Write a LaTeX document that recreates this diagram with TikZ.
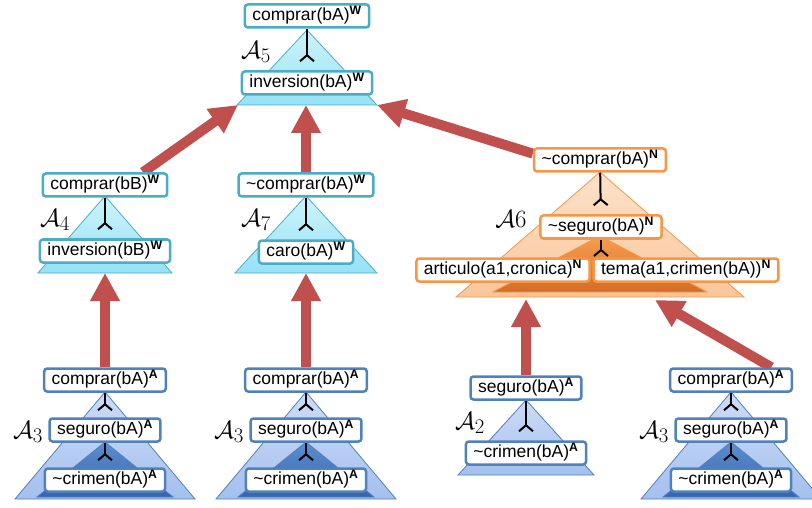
\documentclass[tikz,border=0pt]{standalone}
\usepackage{fontspec}
\setmainfont{Liberation Sans}
\usetikzlibrary{
  arrows.meta,
  calc,
}
\pgfdeclarelayer{triangles}
\pgfdeclarelayer{supports}
\pgfsetlayers{triangles,supports,main}
\definecolor{wline}{RGB}{75,172,198}
\definecolor{wtop}{RGB}{205,243,252}
\definecolor{wbot}{RGB}{150,226,246}
\definecolor{nline}{RGB}{247,150,70}
\definecolor{ntop}{RGB}{253,226,202}
\definecolor{nbot}{RGB}{250,198,156}
\definecolor{ndarktop}{RGB}{248,158,80}
\definecolor{ndarkbot}{RGB}{212,108,38}
\definecolor{aline}{RGB}{79,129,189}
\definecolor{atop}{RGB}{205,220,247}
\definecolor{abot}{RGB}{165,192,238}
\definecolor{adarktop}{RGB}{92,142,206}
\definecolor{adarkbot}{RGB}{55,100,176}
\definecolor{support}{RGB}{192,80,77}
\newcommand{\lit}[2]{%
  #1\textsuperscript{\textbf{#2}}%
}
\newcommand{\neglit}[2]{%
  \textasciitilde\lit{#1}{#2}%
}
\newcommand{\argname}[1]{%
  $\mathcal{A}#1$%
}

\begin{document}
\begin{tikzpicture}[
  x=1pt,
  y=-1pt,
  box/.style n args={1}{
    draw=#1,
    rounded corners=3pt,
    line width=2.5pt,
    fill=white,
    inner xsep=7.5pt,
    inner ysep=3pt,
    text height=13pt,
    text depth=4pt,
    font={\fontsize{17.5}{20}\selectfont},
  },
  wbox/.style={box={wline}},
  nbox/.style={box={nline}},
  abox/.style={box={aline}},
  tri/.style n args={3}{
    draw=#1,
    line width=0.8pt,
    top color=#2,
    bottom color=#3,
  },
  wtri/.style={tri={wline}{wtop}{wbot}},
  ntri/.style={tri={nline}{ntop}{nbot}},
  ndark/.style={tri={nline}{ndarktop}{ndarkbot}},
  atri/.style={tri={aline}{atop}{abot}},
  adark/.style={tri={aline}{adarktop}{adarkbot}},
  fork/.style={
    draw=black,
    line width=2pt,
    -{Straight Barb[reversed,length=6pt,width=14pt]},
    shorten >=8pt,
  },
  arrow/.style={
    draw=support,
    line width=10pt,
    -{Triangle[length=28pt,width=28pt]},
  },
  argname/.style={
    inner sep=0pt,
    font={\fontsize{24.88}{28}\selectfont},
  },
]
  \useasboundingbox (0,0) rectangle (812,508);

  %%%%%%%%%%%%%%%%%%%% TRIANGLES %%%%%%%%%%%%%%%%%%%%

  \begin{pgfonlayer}{triangles}
    % apex x / apex y / base y / half width
    \foreach \x/\ya/\yb/\w in {307/30/105/70,105/196/273/67,306/196/273/71} {
      \draw[wtri] (\x,\ya) -- ({\x-\w},\yb) -- ({\x+\w},\yb) -- cycle;
    }

    \draw[ntri] (600,172) -- (456,297) -- (744,297) -- cycle;
    \draw[ndark] (600,236) -- (493,292) -- (707,292) -- cycle;

    \draw[atri] (526,400) -- (458,475) -- (594,475) -- cycle;

    \foreach \x in {105,306,731} {
      \draw[atri] (\x,392) -- ({\x-90},499) -- ({\x+90},499) -- cycle;
      \draw[adark] (\x,442) -- ({\x-68},497) -- ({\x+68},497) -- cycle;
    }
  \end{pgfonlayer}

  \coordinate (t5-l) at (238,105);
  \coordinate (t5-m) at (306,105);
  \coordinate (t5-r) at (377,105);
  \coordinate (t4-m) at (105,273);
  \coordinate (t7-m) at (306,273);
  \coordinate (t6-l) at (526,299);
  \coordinate (t6-r) at (655,300);

  %%%%%%%%%%%%%%%%%%%% A5, A4, A7 %%%%%%%%%%%%%%%%%%%%

  \node[wbox] (c5) at (307,16) {\lit{comprar(bA)}{W}};
  \node[wbox] (i5) at (307,83) {\lit{inversion(bA)}{W}};
  \node[argname] at (256,52) {\argname{_5}};
  \draw[fork] (c5) -- (i5);

  \node[wbox] (c4) at (105,185) {\lit{comprar(bB)}{W}};
  \node[wbox] (i4) at (105,251) {\lit{inversion(bB)}{W}};
  \node[argname] at (55,220) {\argname{_4}};
  \draw[fork] (c4) -- (i4);

  \node[wbox] (c7) at (306,185) {\neglit{comprar(bA)}{W}};
  \node[wbox] (k7) at (306,252) {\lit{caro(bA)}{W}};
  \node[argname] at (256,220) {\argname{_7}};
  \draw[fork] (c7) -- (k7);

  %%%%%%%%%%%%%%%%%%%% A6 %%%%%%%%%%%%%%%%%%%%

  \node[nbox] (c6) at (600,160) {\neglit{comprar(bA)}{N}};
  \node[nbox] (s6) at (601,227) {\neglit{seguro(bA)}{N}};
  \node[nbox] (art6) at (503,270) {\lit{articulo(a1,cronica)}{N}};
  \node[nbox] (tema6) at (686,270) {\lit{tema(a1,crimen(bA))}{N}};
  \node[argname] at (511,219) {\argname{6}};
  \coordinate (j6) at (601,257);
  \draw[fork] (c6) -- (s6);
  \draw[fork,shorten >=0pt] (s6) -- (j6);

  %%%%%%%%%%%%%%%%%%%% A2, A3 %%%%%%%%%%%%%%%%%%%%

  \node[abox] (s2) at (526,388) {\lit{seguro(bA)}{A}};
  \node[abox] (cr2) at (526,453) {\neglit{crimen(bA)}{A}};
  \node[argname] at (470,423) {\argname{_2}};
  \draw[fork] (s2) -- (cr2);

  \foreach \x/\n in {105/a,306/b,731/c} {
    \node[abox] (c3\n) at (\x,380) {\lit{comprar(bA)}{A}};
    \node[abox] (s3\n) at (\x,430) {\lit{seguro(bA)}{A}};
    \node[abox] (cr3\n) at (\x,480) {\neglit{crimen(bA)}{A}};
    \node[argname] at ({\x-77},432) {\argname{_3}};
    \draw[fork,shorten >=6pt] (c3\n) -- (s3\n);
    \draw[fork,shorten >=6pt] (s3\n) -- (cr3\n);
  }

  %%%%%%%%%%%%%%%%%%%% SUPPORT ARROWS %%%%%%%%%%%%%%%%%%%%

  \begin{pgfonlayer}{supports}
    \draw[arrow] ($(c4.north)!0.6!(c4.north east)$) -- (t5-l);
    \draw[arrow] (c7) -- (t5-m);
    \draw[arrow] ($(c6.west)!0.5!(c6.north west)$) -- (t5-r);
    \draw[arrow] (c3a) -- (t4-m);
    \draw[arrow] (c3b) -- (t7-m);
    \draw[arrow] (s2) -- (t6-l);
    \draw[arrow] ($(c3c.north)!0.65!(c3c.north east)$) -- (t6-r);
  \end{pgfonlayer}
\end{tikzpicture}
\end{document}
